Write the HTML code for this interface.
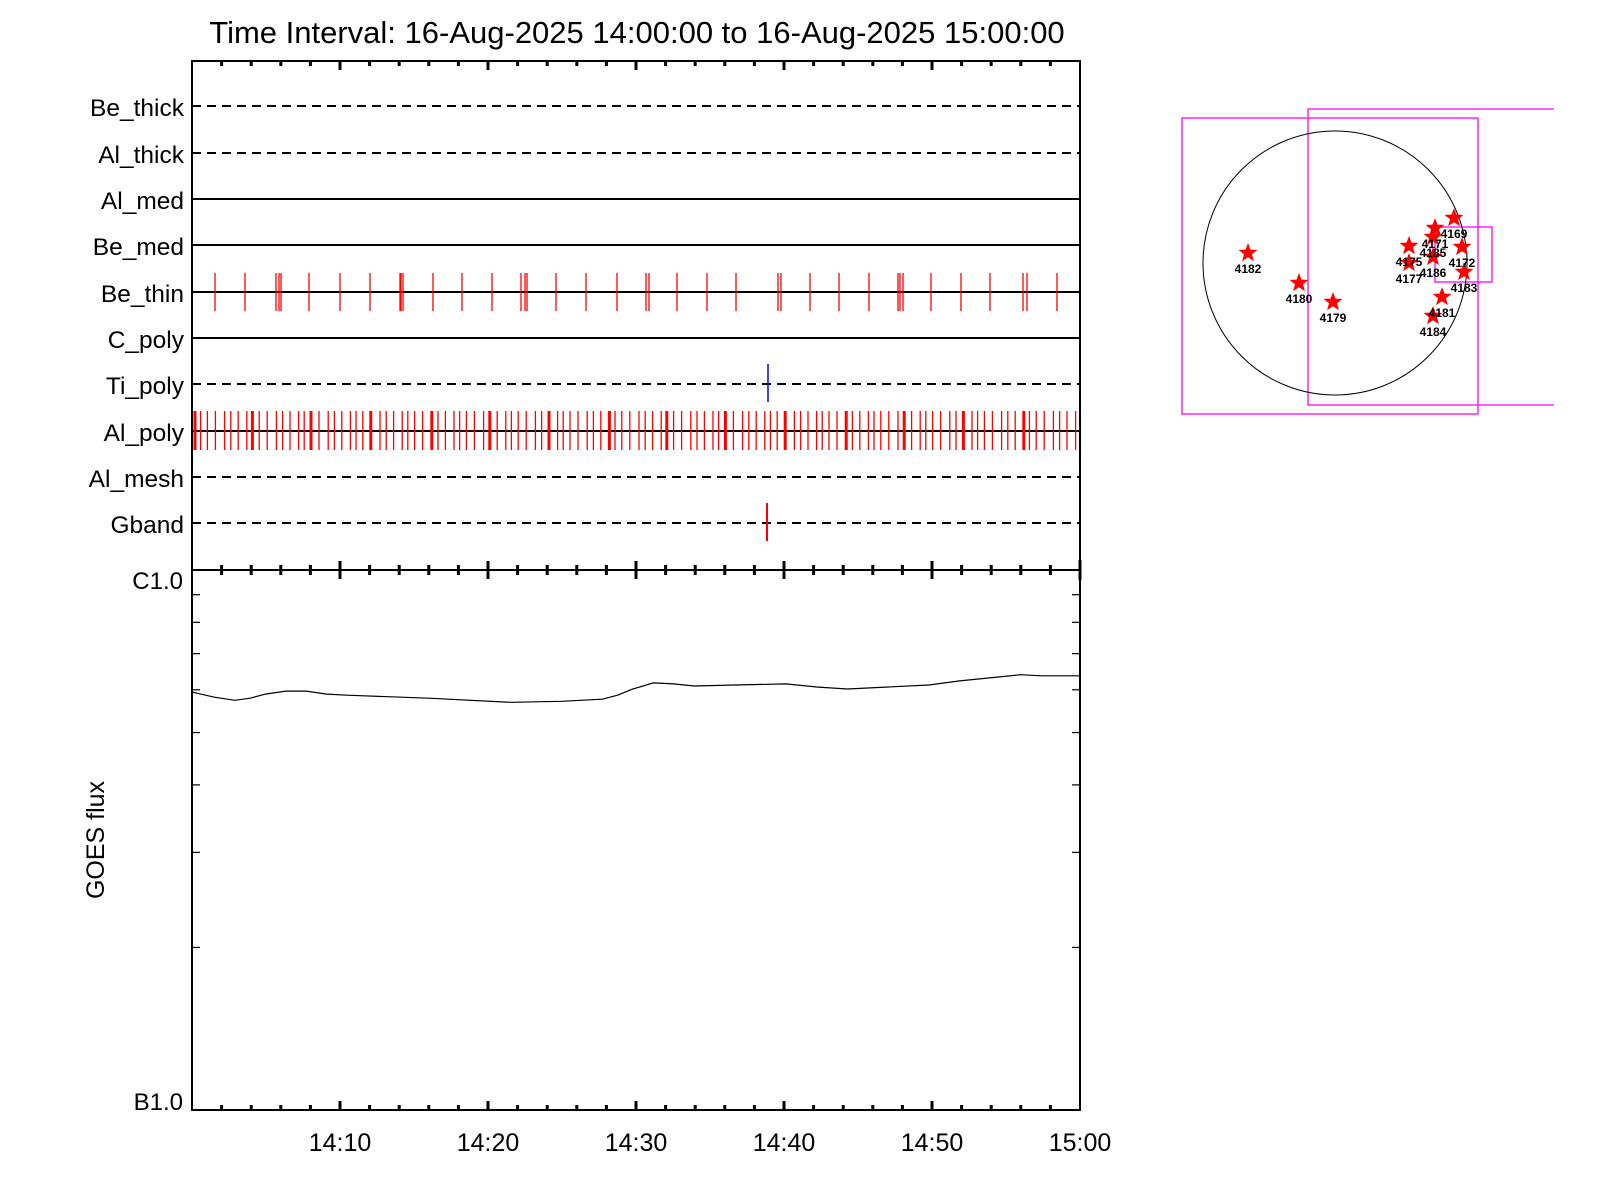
<!DOCTYPE html>
<html><head><meta charset="utf-8"><style>
html,body{margin:0;padding:0;background:#fff;}
svg{display:block;font-family:"Liberation Sans",sans-serif;}
</style></head><body>
<svg id="s" width="1600" height="1200" xmlns="http://www.w3.org/2000/svg">
<rect width="1600" height="1200" fill="#fff"/>
<text x="637" y="43" font-size="31" text-anchor="middle">Time Interval: 16-Aug-2025 14:00:00 to 16-Aug-2025 15:00:00</text>
<g id="rows"></g>
<g id="marks"></g>
<line x1="768" y1="364" x2="768" y2="402" stroke="#0000ff" stroke-width="1.5"/>
<line x1="767" y1="503" x2="767" y2="541" stroke="#ff0000" stroke-width="2"/>
<g id="axes" stroke="#000" stroke-width="2" fill="none">
<rect x="192" y="61" width="888" height="1049"/>
<line x1="192" y1="570" x2="1080" y2="570"/>
</g>
<g id="ticks" stroke="#000"></g>
<g font-size="24" text-anchor="end">
<text x="183" y="589">C1.0</text>
<text x="183" y="1110">B1.0</text>
</g>
<g font-size="25" text-anchor="middle">
<text x="340" y="1151">14:10</text>
<text x="488" y="1151">14:20</text>
<text x="636" y="1151">14:30</text>
<text x="784" y="1151">14:40</text>
<text x="932" y="1151">14:50</text>
<text x="1080" y="1151">15:00</text>
</g>
<text transform="translate(104,840) rotate(-90)" font-size="25" text-anchor="middle">GOES flux</text>
<polyline id="goes" fill="none" stroke="#000" stroke-width="1.2"/>
<g fill="none" stroke="#ff00ff" stroke-width="1.3">
<rect x="1182" y="118" width="296" height="296"/>
<polyline points="1554,109 1308,109 1308,405 1554,405"/>
<rect x="1435" y="227" width="57" height="55"/>
</g>
<circle cx="1335" cy="263" r="132" fill="none" stroke="#000" stroke-width="1"/>
<g id="stars"></g>
</svg>
<script>
var NS="http://www.w3.org/2000/svg";
function el(p,t,a,txt){var e=document.createElementNS(NS,t);for(var k in a)e.setAttribute(k,a[k]);if(txt)e.textContent=txt;document.getElementById(p).appendChild(e);return e;}
var rows=[["Be_thick",1],["Al_thick",1],["Al_med",0],["Be_med",0],["Be_thin",0],["C_poly",0],["Ti_poly",1],["Al_poly",0],["Al_mesh",1],["Gband",1]];
var ys=[107,154,200,246,293,339,385,432,478,524];
rows.forEach(function(r,i){
 var y=ys[i];
 el("rows","line",{x1:192,x2:1080,y1:y-1,y2:y-1,stroke:"#000","stroke-width":2,"stroke-dasharray":r[1]?"9,6":"none"});
 el("rows","text",{x:184,y:y+9,"font-size":24.5,"text-anchor":"end"},r[0]);
});
var bt=[215,245,276,279,281,309,340,370,400,401,403,433,462,492,521,525,527,556,586,617,646,649,677,707,736,778,781,810,839,869,898,900,903,931,961,990,1023,1027,1057];
bt.forEach(function(x){el("marks","line",{x1:x,x2:x,y1:273,y2:311,stroke:"#f00","stroke-width":1.3});});
var x=195,n=0;
while(x<1080){
 var w=1.3;
 if(n%8==0){w=3;}
 el("marks","line",{x1:x,x2:x,y1:411,y2:450,stroke:"#f00","stroke-width":w});
 x+= 7.4 + ((n*37)%7-3)*0.6; n++;
}
for(var m=2;m<60;m+=2){
 var tx=192+m*14.8, maj=(m%10==0);
 var L=maj?9:5;
 el("ticks","line",{x1:tx,x2:tx,y1:61,y2:61+L,"stroke-width":3});
 el("ticks","line",{x1:tx,x2:tx,y1:570-L,y2:570+L,"stroke-width":3});
 el("ticks","line",{x1:tx,x2:tx,y1:1110-L,y2:1110,"stroke-width":3});
}
el("ticks","line",{x1:1080,x2:1080,y1:560,y2:580,"stroke-width":3});
for(var k=2;k<=9;k++){
 var ty=570+540*(1-Math.log10(k));
 el("ticks","line",{x1:192,x2:200,y1:ty,y2:ty,"stroke-width":1.2});
 el("ticks","line",{x1:1072,x2:1080,y1:ty,y2:ty,"stroke-width":1.2});
}
var pts=[[188,678],[210,683],[230,686],[245,684],[260,680],[280,677],[300,677],[320,680],[340,681],[420,684],[500,688],[550,687],[590,685],[605,681],[620,675],[640,669],[660,670],[680,672],[720,671],[770,670],[800,673],[830,675],[870,673],[910,671],[940,667],[1000,661],[1020,662],[1058,662]];
document.getElementById("goes").setAttribute("points",pts.map(function(p){return (p[0]*1.0208).toFixed(1)+","+(p[1]*1.0208).toFixed(1);}).join(" "));
var st=[["4182",1248,253],["4180",1299,283],["4179",1333,302],["4175",1409,246],["4177",1409,263],["4171",1435,228],["4185",1433,237],["4186",1433,257],["4169",1454,218],["4172",1462,247],["4183",1464,272],["4181",1442,297],["4184",1433,316]];
function starPts(cx,cy,R){var r=R*0.42,s=[];for(var i=0;i<10;i++){var a=-Math.PI/2+i*Math.PI/5,rr=i%2?r:R;s.push((cx+rr*Math.cos(a)).toFixed(1)+","+(cy+rr*Math.sin(a)).toFixed(1));}return s.join(" ");}
st.forEach(function(s){el("stars","polygon",{points:starPts(s[1],s[2],10),fill:"#f00"});});
st.forEach(function(s){el("stars","text",{x:s[1],y:s[2]+20,"font-size":12,"text-anchor":"middle","font-weight":"bold"},s[0]);});
</script>
</body></html>
